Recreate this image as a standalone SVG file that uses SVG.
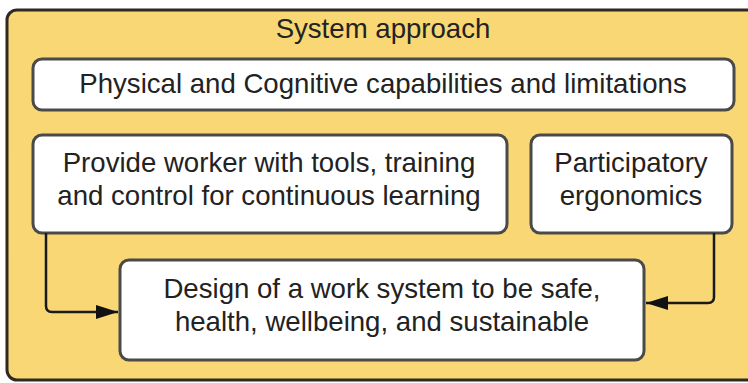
<svg xmlns="http://www.w3.org/2000/svg" width="748" height="383" viewBox="0 0 748 383">
<defs>
<style>
.box{fill:#ffffff;stroke:#4a4a4a;stroke-width:3}
.t{font-family:"Liberation Sans",Arial,sans-serif;font-size:27.6px;fill:#222;text-anchor:middle}
.c{fill:none;stroke:#1a1a1a;stroke-width:2.5}
</style>
<marker id="ah2" markerWidth="22" markerHeight="14" refX="22" refY="7" orient="auto" markerUnits="userSpaceOnUse">
<path d="M0,0 L22,7 L0,14 z" fill="#111"/>
</marker>
</defs>
<rect width="748" height="383" fill="#ffffff"/>
<g id="system">
<rect x="7" y="10" width="760" height="370" rx="10" fill="#f8d774" stroke="#2e2a22" stroke-width="3"/>
<text class="t" x="383" y="38">System approach</text>
</g>
<g id="capabilities">
<rect class="box" x="33" y="59" width="701" height="51" rx="9"/>
<text class="t" x="383" y="93">Physical and Cognitive capabilities and limitations</text>
</g>
<g id="tools">
<rect class="box" x="33" y="135" width="474" height="98" rx="9"/>
<text class="t" x="269" y="172">Provide worker with tools, training</text>
<text class="t" x="269" y="205">and control for continuous learning</text>
</g>
<g id="participatory">
<rect class="box" x="531" y="135" width="201" height="98" rx="9"/>
<text class="t" x="631" y="172">Participatory</text>
<text class="t" x="631" y="205">ergonomics</text>
</g>
<g id="design">
<rect class="box" x="120" y="260" width="524" height="100" rx="9"/>
<text class="t" x="382" y="298">Design of a work system to be safe,</text>
<text class="t" x="382" y="331">health, wellbeing, and sustainable</text>
</g>
<g id="connectors">
<path class="c" d="M46,233 V306 Q46,312 52,312 H118" marker-end="url(#ah2)"/>
<path class="c" d="M714,233 V297 Q714,303 708,303 H646" marker-end="url(#ah2)"/>
</g>
</svg>
